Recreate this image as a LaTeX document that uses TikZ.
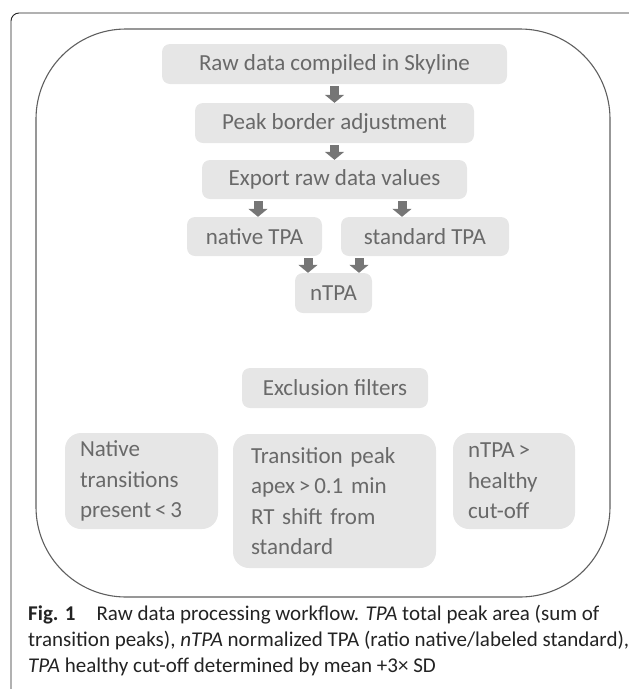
\documentclass[tikz,border=0pt]{standalone}
\usepackage{fontspec}
\setmainfont{Carlito}
\usepackage{tikz}
\usetikzlibrary{arrows.meta,positioning}
\definecolor{boxgray}{RGB}{230,230,230}
\definecolor{textgray}{RGB}{105,105,105}
\definecolor{arrowgray}{RGB}{118,118,118}
\definecolor{framegray}{RGB}{95,95,95}
\definecolor{capgray}{RGB}{35,35,35}

\tikzset{
    stepbox/.style={fill=boxgray, rounded corners=8pt, text=textgray, inner sep=0pt,
        font=\fontsize{23}{28}\selectfont},
    filterbox/.style={stepbox, rounded corners=16pt, align=left,
        font=\fontsize{23}{30.5}\selectfont},
    flowarrow/.style={line width=9pt, draw=arrowgray,
        -{Triangle[width=19pt,length=8pt]}, shorten <=2pt}
}

\begin{document}
\begin{tikzpicture}[x=1pt,y=-1pt]
        \useasboundingbox (0,0) rectangle (629,689);

        % Frames
        \draw[capgray, line width=0.9pt, rounded corners=8pt] (11,689) |- (629,13);
        \draw[framegray, line width=1.1pt, rounded corners=90pt] (36,29) rectangle (610,597);

        % Workflow steps
        \node[stepbox, minimum width=345pt, minimum height=40pt] (raw) at (334.5,64) {Raw data compiled in Skyline};
        \node[stepbox, minimum width=279pt, minimum height=40pt] (peak) at (334.5,123) {Peak border adjustment};
        \node[stepbox, minimum width=265pt, minimum height=39pt] (export) at (334.5,179.5) {Export raw data values};
        \node[stepbox, minimum width=135pt, minimum height=39pt] (native) at (254.5,236.5) {native TPA};
        \node[stepbox, minimum width=168pt, minimum height=39pt] (standard) at (425,236.5) {standard TPA};
        \node[stepbox, minimum width=77pt, minimum height=40pt] (ntpa) at (333.5,293) {nTPA};

        % Arrows
        \draw[flowarrow] (raw.south) -- (peak.north);
        \draw[flowarrow] (peak.south) -- (export.north);
        \draw[flowarrow] ([xshift=-76.5pt]export.south) -- ([xshift=3.5pt]native.north);
        \draw[flowarrow] ([xshift=67.5pt]export.south) -- ([xshift=-23pt]standard.north);
        \draw[flowarrow] ([xshift=53.5pt]native.south) -- ([xshift=-25.5pt]ntpa.north);
        \draw[flowarrow] ([xshift=-66pt]standard.south) -- ([xshift=25.5pt]ntpa.north);

        % Exclusion filters
        \node[stepbox, minimum width=186pt, minimum height=40pt] (excl) at (335,388) {Exclusion filters};
        \node[filterbox, text width=123pt, inner xsep=15pt, minimum height=96pt] (fnative) at (141.5,481)
            {Native\\transitions\\present\,<\,3};
        \node[filterbox, text width=167pt, inner xsep=18pt, minimum height=134pt] (fshift) at (334.5,501)
            {Transition peak\\apex\,>\,0.1 min\\RT shift from\\standard};
        \node[filterbox, text width=92pt, inner xsep=15pt, minimum height=96pt] (fcut) at (514,481)
            {nTPA\,>\\healthy\\cut-off};

        % Caption
        \node[anchor=north west, align=left, inner sep=0pt, text=capgray,
            font=\fontsize{21}{26}\selectfont] (caption) at (28,605)
            {\textbf{Fig. 1}\quad Raw data processing workflow. \textit{TPA} total peak area (sum of\\
             transition peaks), \textit{nTPA} normalized TPA (ratio native/labeled standard),\\
             \textit{TPA} healthy cut-off determined by mean +3× SD};
    \end{tikzpicture}
\end{document}
